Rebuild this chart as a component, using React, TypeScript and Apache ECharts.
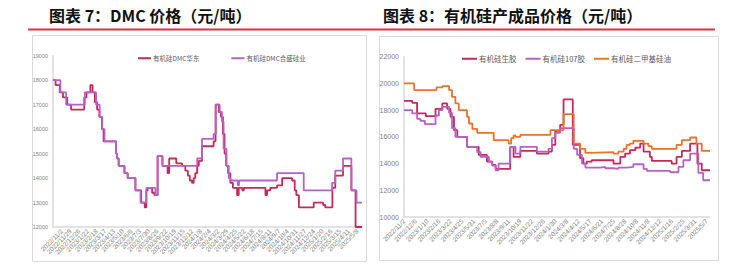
import React, { useEffect, useRef } from "react";
import * as echarts from "echarts";

// Left chart tick labels (every 27 days; first tick at axis origin is blank)
const LEFT_LABELS = [
  "2022/11/2", "2022/11/29", "2022/12/26", "2023/1/22", "2023/2/18", "2023/3/17", "2023/4/13",
  "2023/5/10", "2023/6/6", "2023/7/3", "2023/7/30", "2023/8/26", "2023/9/22", "2023/10/19",
  "2023/11/15", "2023/12/12", "2024/1/8", "2024/2/4", "2024/3/2", "2024/3/29", "2024/4/25",
  "2024/5/22", "2024/6/18", "2024/7/15", "2024/8/11", "2024/9/7", "2024/10/4", "2024/10/31",
  "2024/11/27", "2024/12/24", "2025/1/20", "2025/2/16", "2025/3/15", "2025/4/11", "2025/5/8",
];

// Right chart tick labels (every 24 trading days)
const RIGHT_LABELS = [
  "2022/11/2", "2022/12/6", "2023/1/10", "2023/2/16", "2023/3/22", "2023/4/25", "2023/5/31",
  "2023/7/5", "2023/8/8", "2023/9/11", "2023/10/19", "2023/11/22", "2023/12/26", "2024/1/30",
  "2024/3/8", "2024/4/12", "2024/5/17", "2024/6/21", "2024/7/25", "2024/8/28", "2024/10/8",
  "2024/11/8", "2024/12/12", "2025/1/16", "2025/2/25", "2025/3/31", "2025/5/7",
];

// [day index, price] change points
const DMC_EAST = [
  [0, 18000], [8, 17800], [21, 17500], [31, 17300], [44, 17000], [56, 16800], [97, 17300],
  [104, 17500], [116, 17800], [123, 17500], [130, 17100], [137, 16800], [144, 16500],
  [152, 16000], [157, 15500], [196, 15000], [199, 14800], [204, 14500], [222, 14200],
  [232, 14000], [256, 13500], [274, 13000], [285, 12800], [290, 13500], [294, 13600],
  [308, 13400], [315, 13300], [325, 14900], [340, 14500], [356, 14200], [361, 14800],
  [383, 14600], [401, 14500], [411, 14300], [419, 14100], [425, 13900], [432, 13800],
  [437, 14000], [442, 14200], [448, 14500], [453, 14700], [463, 15300], [499, 15500],
  [505, 17000], [515, 16700], [522, 16500], [528, 15800], [533, 15000], [538, 14500],
  [544, 14200], [551, 13800], [559, 13600], [572, 13300], [577, 13600], [588, 13500],
  [593, 13600], [660, 13300], [665, 13500], [675, 13600], [696, 13700], [712, 14000],
  [743, 13900], [751, 13500], [756, 13300], [764, 12800], [810, 13000], [839, 12900],
  [846, 12800], [868, 13600], [877, 14100], [901, 14500], [927, 13500], [940, 12000],
  [960, 12000],
];
const DMC_HOSHINE = [
  [0, 18000], [23, 17500], [41, 17000], [99, 17500], [134, 17000], [145, 16500],
  [153, 16000], [160, 15500], [196, 15000], [199, 14800], [204, 14500], [222, 14200],
  [232, 14000], [256, 13500], [272, 13000], [290, 13600], [318, 13300], [325, 14900],
  [340, 14500], [448, 14800], [463, 15600], [499, 15800], [506, 17000], [518, 16700],
  [525, 16300], [530, 15200], [539, 14500], [546, 14000], [551, 13900], [574, 13700],
  [578, 13900], [696, 14200], [779, 13500], [867, 13800], [877, 14300], [901, 14800],
  [927, 13500], [943, 13000], [960, 13000],
];

const RAW_RUBBER = [
  [0, 18700], [17, 18550], [27, 17750], [45, 17550], [65, 18100], [79, 18500], [89, 18100],
  [96, 17500], [103, 16500], [110, 16000], [130, 15250], [154, 14650], [171, 14150],
  [182, 13900], [189, 13600], [219, 15250], [226, 14500], [240, 14950], [274, 14750],
  [298, 14900], [305, 15400], [312, 16450], [322, 16900], [329, 18800], [348, 15400],
  [363, 14400], [370, 14000], [377, 14150], [387, 14250], [432, 14000], [446, 14500],
  [456, 14750], [466, 15000], [477, 15200], [487, 15500], [494, 14900], [507, 14500],
  [511, 14200], [552, 14000], [562, 14500], [573, 14950], [590, 15500], [605, 14000],
  [614, 13500], [631, 13500],
];
const RUBBER_107 = [
  [0, 18000], [17, 17750], [27, 17350], [34, 17200], [43, 16950], [65, 17600], [72, 18000],
  [79, 18250], [93, 17800], [99, 16650], [106, 16000], [130, 15250], [151, 14850],
  [158, 14500], [175, 14150], [182, 13850], [189, 13500], [195, 14000], [219, 15250],
  [230, 14750], [240, 15250], [274, 14900], [298, 15100], [305, 15900], [312, 16300],
  [322, 16650], [350, 15100], [357, 14650], [367, 14000], [374, 13700], [405, 13750],
  [415, 13650], [432, 13600], [442, 13700], [459, 13750], [473, 13950], [494, 13600],
  [501, 13450], [549, 13350], [566, 13750], [576, 14250], [590, 14750], [607, 13300],
  [617, 12750], [631, 12750],
];
const SILICONE_OIL = [
  [0, 20000], [21, 19500], [67, 19700], [79, 19800], [93, 19500], [99, 19000], [106, 18500],
  [113, 18000], [130, 17500], [134, 17000], [141, 16600], [151, 16300], [185, 15750],
  [216, 15500], [221, 15900], [226, 16100], [230, 16000], [240, 16150], [302, 16500],
  [329, 17700], [350, 15500], [363, 15100], [374, 14800], [381, 14850], [432, 14750],
  [442, 14900], [453, 15100], [459, 15400], [466, 15500], [473, 15700], [494, 15500],
  [504, 15300], [511, 15100], [562, 15400], [573, 15750], [590, 15950], [603, 15500],
  [614, 14950], [631, 14950],
];

const RED = "#C32A57";
const PURPLE = "#B462C8";
const ORANGE = "#E8722E";
const LABEL_COLOR = "#808080";
const AXIS_COLOR = "#D9D9D9";
const FONT = "'Liberation Sans', Arial, sans-serif";
const CJK = "'Noto Sans CJK SC', sans-serif";

export default function App() {
  const ref = useRef<HTMLDivElement>(null);
  useEffect(() => {
    if (!ref.current) return;
    const chart = echarts.init(ref.current, null, { renderer: "svg" });
    const lineSeries = (name: string, data: number[][], color: string, idx: number) => ({
      name,
      type: "line",
      step: "end",
      data,
      xAxisIndex: idx,
      yAxisIndex: idx,
      showSymbol: false,
      symbol: "none",
      lineStyle: { color, width: 1.8 },
      itemStyle: { color },
    });
    chart.setOption({
      animation: false,
      backgroundColor: "#ffffff",
      graphic: [
        { type: "rect", shape: { x: 28, y: 28.5, width: 687, height: 2 }, style: { fill: "#D6363C" } },
        { type: "rect", shape: { x: 32.5, y: 35.5, width: 334, height: 226 }, style: { fill: "none", stroke: AXIS_COLOR, lineWidth: 1 } },
        { type: "rect", shape: { x: 379.5, y: 36.5, width: 339, height: 224 }, style: { fill: "none", stroke: AXIS_COLOR, lineWidth: 1 } },
        { type: "text", x: 49, y: 15, style: { text: "图表 7：DMC 价格（元/吨）", font: `bold 16px ${CJK}`, fill: "#111", textVerticalAlign: "middle" } },
        { type: "text", x: 383, y: 15, style: { text: "图表 8：有机硅产成品价格（元/吨）", font: `bold 16px ${CJK}`, fill: "#111", textVerticalAlign: "middle" } },
      ],
      legend: [
        {
          data: ["有机硅DMC华东", "有机硅DMC合盛硅业"],
          left: 133, top: 50, itemWidth: 13, itemHeight: 2, itemGap: 32, icon: "rect",
          textStyle: { fontSize: 6.5, color: "#595959", fontFamily: CJK, padding: [0, 0, 0, -3] },
        },
        {
          data: ["有机硅生胶", "有机硅107胶", "有机硅二甲基硅油"],
          left: 457, top: 50, itemWidth: 15, itemHeight: 2, itemGap: 9, icon: "rect",
          textStyle: { fontSize: 7.5, color: "#595959", fontFamily: CJK, padding: [0, 0, 0, -3] },
        },
      ],
      grid: [
        { left: 53, right: 373, top: 55.7, bottom: 37 },
        { left: 404, right: 25, top: 56.7, bottom: 47 },
      ],
      xAxis: [
        {
          type: "value", gridIndex: 0, min: 0, max: 960, interval: 27,
          axisLine: { show: true, lineStyle: { color: AXIS_COLOR, width: 1.5 } },
          axisTick: { show: false }, splitLine: { show: false },
          axisLabel: {
            rotate: 45, fontSize: 6.5, color: LABEL_COLOR, fontFamily: FONT, margin: 3,
            showMinLabel: true, showMaxLabel: true,
            formatter: (v: number) => (v % 27 === 0 && v > 0 ? LEFT_LABELS[v / 27 - 1] ?? "" : ""),
          },
        },
        {
          type: "value", gridIndex: 1, min: 0, max: 631, interval: 24,
          axisLine: { show: true, lineStyle: { color: AXIS_COLOR, width: 1.5 } },
          axisTick: { show: false }, splitLine: { show: false },
          axisLabel: {
            rotate: 45, fontSize: 6.5, color: LABEL_COLOR, fontFamily: FONT, margin: 3,
            showMinLabel: true, showMaxLabel: true,
            formatter: (v: number) => (v % 24 === 0 ? RIGHT_LABELS[v / 24] ?? "" : ""),
          },
        },
      ],
      yAxis: [
        {
          type: "value", gridIndex: 0, min: 12000, max: 19000, interval: 1000,
          axisLine: { show: true, lineStyle: { color: AXIS_COLOR, width: 1.5 } },
          axisTick: { show: false }, splitLine: { show: false },
          axisLabel: { fontSize: 5.5, color: LABEL_COLOR, fontFamily: FONT, margin: 5, formatter: (v: number) => String(v) },
        },
        {
          type: "value", gridIndex: 1, min: 10000, max: 22000, interval: 2000,
          axisLine: { show: true, lineStyle: { color: AXIS_COLOR, width: 1.5 } },
          axisTick: { show: false }, splitLine: { show: false },
          axisLabel: { fontSize: 7, color: LABEL_COLOR, fontFamily: FONT, margin: 5, formatter: (v: number) => String(v) },
        },
      ],
      series: [
        lineSeries("有机硅DMC华东", DMC_EAST, RED, 0),
        lineSeries("有机硅DMC合盛硅业", DMC_HOSHINE, PURPLE, 0),
        lineSeries("有机硅生胶", RAW_RUBBER, RED, 1),
        lineSeries("有机硅107胶", RUBBER_107, PURPLE, 1),
        lineSeries("有机硅二甲基硅油", SILICONE_OIL, ORANGE, 1),
      ],
    });
    return () => chart.dispose();
  }, []);
  return (
    <div
      ref={ref}
      style={{ position: "fixed", left: 0, top: 0, width: 735, height: 264, background: "#fff" }}
    />
  );
}
